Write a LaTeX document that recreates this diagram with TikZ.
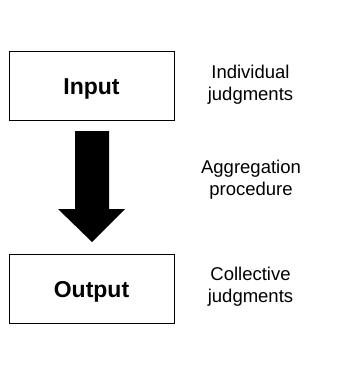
\documentclass[tikz,border=0pt]{standalone}
\usepackage{fontspec}
\setmainfont{Liberation Sans}
\begin{document}
\begin{tikzpicture}[x=1pt,y=-1pt,
  stagebox/.style={draw=black,line width=0.9pt,minimum width=165pt,minimum height=69pt,inner sep=0pt,
    text height=18pt,text depth=0pt,font=\fontsize{23}{27}\selectfont\bfseries},
  sidelabel/.style={align=center,inner sep=0pt,font=\fontsize{18.5}{22}\selectfont}]
\useasboundingbox (0,0) rectangle (337,375);
\node[stagebox] (in) at (91.5,85.5) {Input};
\node[stagebox] (out) at (91.5,288.5) {Output};
\node[sidelabel] (l1) at (250.5,85) {Individual\\judgments};
\node[sidelabel] (l2) at (251,180) {Aggregation\\procedure};
\node[sidelabel] (l3) at (250.5,287) {Collective\\judgments};
\fill[black] (75,131) -- (109,131) -- (109,209) -- (125,209) -- (92,242) -- (58,209) -- (75,209) -- cycle;
\end{tikzpicture}
\end{document}
